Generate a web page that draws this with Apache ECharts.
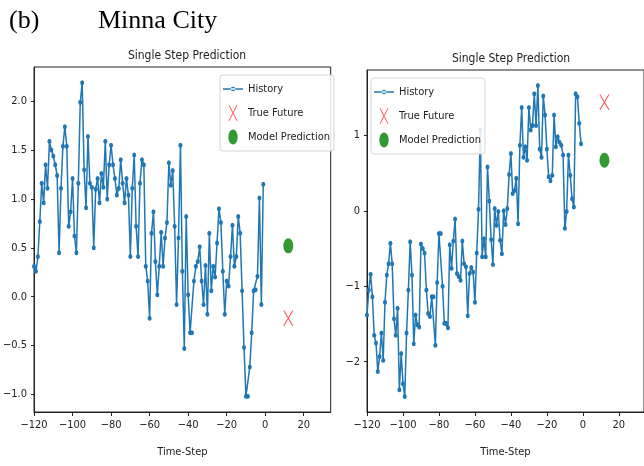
<!DOCTYPE html>
<html>
<head>
<meta charset="utf-8">
<script src="https://cdn.jsdelivr.net/npm/echarts@6/dist/echarts.min.js"></script>
<style>
  html, body { margin: 0; padding: 0; background: #fff; }
  #chart { width: 644px; height: 466px; }
</style>
</head>
<body>
<div id="chart"></div>
<script>
// ---------- data ----------
const timeSteps = Array.from({ length: 120 }, (_, i) => i - 120); // -120 .. -1
const futureStep = [12];
const xTicks = [-120, -100, -80, -60, -40, -20, 0, 20];

const leftHistory = [
  0.31, 0.26, 0.41, 0.77, 1.16, 0.96, 1.35, 1.11, 1.59, 1.50,
  1.44, 1.35, 1.24, 0.45, 1.11, 1.54, 1.74, 1.54, 0.72, 0.87,
  1.21, 0.62, 0.45, 1.16, 1.99, 2.19,
  1.30, 0.91, 1.64, 1.16, 1.12, 0.50, 1.10, 1.21, 0.96, 1.26,
  1.12, 1.59, 1.00, 1.35, 1.55, 1.35, 1.21, 1.04, 1.11, 1.40,
  1.16, 0.96, 1.21, 1.04, 0.41, 1.11, 1.45, 0.72, 0.41, 1.16,
  1.40, 1.35, 0.31, 0.16, -0.22, 0.65, 0.87, 0.36, 0.02, 0.31,
  0.66, 0.31, 0.60, 0.76, 1.37, 1.14, 1.29, 0.72, -0.08, 0.60,
  1.55, 0.26, -0.53, 0.82, 0.02, -0.37, -0.37, 0.16, 0.31, 0.36,
  0.51, 0.16, -0.08, 0.32, -0.18, 0.65, 0.06, 0.31, 0.20, 0.55,
  0.90, 0.76, 0.26, -0.18, 0.16, 0.11, 0.41, 0.73, 0.31, 0.41,
  0.82, 0.65, 0.06, -0.52, -1.02, -1.02, -0.72, -0.37, 0.06, 0.07,
  0.21, 1.01, -0.08, 1.15
];
const leftTrueFuture = [-0.22];
const leftPrediction = [0.52];
const leftYTicks = [-1.0, -0.5, 0.0, 0.5, 1.0, 1.5, 2.0];

const rightHistory = [
  -1.38, -1.05, -0.84, -1.14, -1.65, -1.75, -2.13, -1.93, -1.62, -1.98,
  -1.21, -0.85, -0.70, -0.43, -0.70, -1.43, -1.65, -1.29, -2.37, -1.89,
  -2.29, -2.46, -1.62, -1.05, -0.41, -0.85, -1.76, -1.38, -1.51, -1.54,
  -0.44, -0.50, -0.56, -1.05, -1.36, -1.40, -1.14, -1.14, -1.78, -0.95,
  -0.30, -0.30, -1.00, -1.49, -1.49, -1.55, -0.45, -0.76, -0.40, -0.11,
  -0.83, -0.87, -0.92, -0.40, -0.70, -0.74, -1.39, -0.83, -0.75, -0.81,
  -1.21, -0.56, 0.02, 1.07, -0.61, -0.37, -0.61, 0.58, 0.13, -0.38,
  -0.71, 0.03, -0.19, -0.01, -0.39, -0.57, 0.00, -0.18, 0.03, 0.48,
  0.76, 0.23, 0.27, 0.43, -0.17, 0.87, 1.37, 0.71, 0.85, 0.67,
  1.37, 1.07, 1.13, 1.55, 1.13, 1.66, 0.82, 0.71, 1.52, 1.27,
  0.82, 0.45, 0.40, 0.47, 1.27, 0.85, 0.98, 0.91, 0.87, 0.74,
  -0.23, -0.01, 0.74, 0.47, 0.16, 0.05, 1.55, 1.51, 1.16, 0.89
];
const rightTrueFuture = [1.44];
const rightPrediction = [0.67];
const rightYTicks = [-2, -1, 0, 1];

const figureLabel = '(b)';
const figureTitle = 'Minna City';
const subplotTitle = 'Single Step Prediction';
const xAxisName = 'Time-Step';
const seriesNames = ['History', 'True Future', 'Model Prediction'];

// ---------- helpers ----------
const NARROW = "'DejaVu Sans Condensed', 'Liberation Sans Narrow', 'Arial Narrow', sans-serif";
const SERIF = "'Liberation Serif', 'Times New Roman', 'DejaVu Serif', serif";
const INK = '#222';

function extentWithMargin(values) {
  const mn = Math.min(...values), mx = Math.max(...values);
  const pad = (mx - mn) * 0.05;
  return [mn - pad, mx + pad];
}
const minus = s => String(s).replace('-', '\u2212');

const leftExt = extentWithMargin(leftHistory.concat(leftTrueFuture, leftPrediction));
const rightExt = extentWithMargin(rightHistory.concat(rightTrueFuture, rightPrediction));

function xAxis(gridIndex) {
  return {
    type: 'value', gridIndex, min: -120, max: 34,
    name: xAxisName, nameLocation: 'middle', nameGap: 35,
    nameTextStyle: { fontFamily: NARROW, fontSize: 11, color: INK },
    axisLine: { show: true, onZero: false, lineStyle: { color: INK, width: 1 } },
    axisTick: { show: true, length: 4, customValues: xTicks, lineStyle: { color: INK } },
    axisLabel: { customValues: xTicks, margin: 8, fontFamily: NARROW, fontSize: 11, color: INK,
      formatter: v => minus(v) },
    splitLine: { show: false }
  };
}
function yAxis(gridIndex, ext, ticks, dec) {
  return {
    type: 'value', gridIndex, min: ext[0], max: ext[1],
    axisLine: { show: true, onZero: false, lineStyle: { color: INK, width: 1 } },
    axisTick: { show: true, length: 3, customValues: ticks, lineStyle: { color: INK } },
    axisLabel: { customValues: ticks, margin: 7, fontFamily: NARROW, fontSize: 11, color: INK,
      formatter: v => minus(Number(v).toFixed(dec)) },
    splitLine: { show: false }
  };
}

// legend icons (bbox 20x16)
const ICON_HISTORY = 'path://M0,0M20,16M0,7.3L20,7.3L20,8.7L0,8.7ZM12.3,8A2.3,2.3,0,1,0,7.7,8A2.3,2.3,0,1,0,12.3,8Z';
const ICON_X = 'path://M0,0M20,16M5.6,0.6L6.4,0L14.4,15.4L13.6,16ZM13.6,0L14.4,0.6L6.4,16L5.6,15.4Z';
const ICON_DOT = 'path://M0,0M20,16M5.3,8A4.7,7.6,0,1,0,14.7,8A4.7,7.6,0,1,0,5.3,8Z';
const SYM_X = 'path://M0,0.6L0.9,0L10,15.4L9.1,16ZM9.1,0L10,0.6L0.9,16L0,15.4Z';

function legend(left, top) {
  return {
    left, top, orient: 'vertical',
    itemWidth: 20, itemHeight: 16, itemGap: 8,
    padding: [6, 4, 6, 3],
    backgroundColor: 'rgba(255,255,255,0.85)',
    borderColor: '#d4d4d4', borderWidth: 1, borderRadius: 3,
    itemStyle: { borderWidth: 0 },
    textStyle: { fontFamily: NARROW, fontSize: 11, color: INK },
    data: [
      { name: seriesNames[0], icon: ICON_HISTORY },
      { name: seriesNames[1], icon: ICON_X },
      { name: seriesNames[2], icon: ICON_DOT }
    ]
  };
}

function seriesFor(idx, hist, truth, pred) {
  return [
    {
      name: seriesNames[0], type: 'line', xAxisIndex: idx, yAxisIndex: idx,
      data: timeSteps.map((t, i) => [t, hist[i]]),
      symbol: 'circle', symbolSize: [4, 5], showAllSymbol: true,
      itemStyle: { color: '#1f77b4' },
      lineStyle: { color: '#1f77b4', width: 1.5 },
      animation: false
    },
    {
      name: seriesNames[1], type: 'scatter', xAxisIndex: idx, yAxisIndex: idx,
      data: futureStep.map((t, i) => [t, truth[i]]),
      symbol: SYM_X, symbolSize: [10, 16],
      itemStyle: { color: '#ff3333' }, z: 5, animation: false
    },
    {
      name: seriesNames[2], type: 'scatter', xAxisIndex: idx, yAxisIndex: idx,
      data: futureStep.map((t, i) => [t, pred[i]]),
      symbol: 'circle', symbolSize: [10, 15],
      itemStyle: { color: '#008000' }, z: 5, animation: false
    }
  ];
}

const option = {
  backgroundColor: '#fff',
  animation: false,
  title: [
    { text: figureLabel, left: 4, top: 3, textStyle: { fontFamily: SERIF, fontSize: 26, fontWeight: 'normal', color: '#000' } },
    { text: figureTitle, left: 93, top: 3, textStyle: { fontFamily: SERIF, fontSize: 26, fontWeight: 'normal', color: '#000' } },
    { text: subplotTitle, left: 182, top: 45, textAlign: 'center', textStyle: { fontFamily: NARROW, fontSize: 12, fontWeight: 'normal', color: INK } },
    { text: subplotTitle, left: 506, top: 48, textAlign: 'center', textStyle: { fontFamily: NARROW, fontSize: 12, fontWeight: 'normal', color: INK } }
  ],
  legend: [legend(220, 75), legend(371, 78)],
  grid: [
    { left: 33, top: 67, width: 297.7, height: 345, show: true, borderColor: INK, borderWidth: 1, backgroundColor: 'transparent' },
    { left: 367, top: 70, width: 279, height: 342, show: true, borderColor: INK, borderWidth: 1, backgroundColor: 'transparent' }
  ],
  xAxis: [xAxis(0), xAxis(1)],
  yAxis: [yAxis(0, leftExt, leftYTicks, 1), yAxis(1, rightExt, rightYTicks, 0)],
  series: [].concat(
    seriesFor(0, leftHistory, leftTrueFuture, leftPrediction),
    seriesFor(1, rightHistory, rightTrueFuture, rightPrediction)
  )
};

const chart = echarts.init(document.getElementById('chart'), null, { renderer: 'canvas' });
chart.setOption(option);
</script>
</body>
</html>
